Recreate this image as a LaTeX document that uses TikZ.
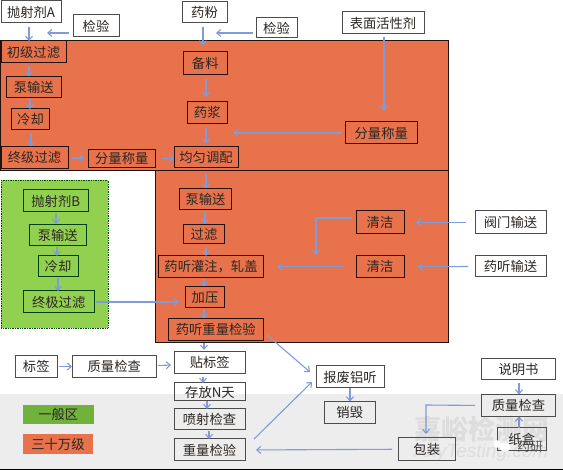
\documentclass[tikz,border=0pt]{standalone}
\usepackage{fontspec}
\setmainfont{Noto Sans CJK SC}
\newfontfamily\wmfont{Liberation Sans}
\usetikzlibrary{arrows.meta,calc}
\definecolor{zoneorange}{HTML}{E8724B}
\definecolor{zonegreen}{HTML}{92D050}
\definecolor{legendgreen}{HTML}{70B23C}
\definecolor{groundgray}{HTML}{EDEDED}
\definecolor{flowblue}{HTML}{7F9BDA}
\definecolor{inkdark}{HTML}{2B2622}
\tikzset{
  x=1pt,y=-1pt,
  base/.style={inner sep=0pt,outer sep=0pt,font=\fontsize{13.3}{14}\selectfont,text=inkdark,line width=1pt,anchor=center},
  whitebox/.style={base,draw=black!70,fill=white},
  graybox/.style={base,draw=black!70},
  orangebox/.style={base,draw=black!85!zoneorange},
  greenbox/.style={base,draw=green!25!black},
  legendbox/.style={base,draw=none},
  flow/.style={draw=flowblue,line width=1.1pt,-{Straight Barb[length=4pt,width=7pt]}},
  watermark/.style={inner sep=0pt,text=black!55,opacity=0.13},
}
% name, x1, y1, x2, y2, style, text
\newcommand{\bx}[7]{\node[#6,minimum width={(#4-#2)*1pt},minimum height={(#5-#3)*1pt}] (#1) at ({(#2+#4)/2},{(#3+#5)/2}) {#7};}
% connectors: from, offset, gap, to, offset, gap
\newcommand{\vflow}[6]{\draw[flow,shorten <=#3pt,shorten >=#6pt] ([shift={(#2,0)}]#1.south) -- ([shift={(#5,0)}]#4.north);}
\newcommand{\hflow}[6]{\draw[flow,shorten <=#3pt,shorten >=#6pt] ([shift={(0,#2)}]#1.east) -- ([shift={(0,#5)}]#4.west);}
\begin{document}
\begin{tikzpicture}
\useasboundingbox (0,0) rectangle (563,470);
% ground and zones
\fill[white] (0,0) rectangle (563,470);
\fill[groundgray] (0,394) rectangle (563,469);
\fill[black] (0,469) rectangle (563,470);
\draw[fill=zoneorange,draw=black!85!zoneorange,line width=1pt] (0,41) rectangle (448,171);
\draw[fill=zoneorange,draw=black!85!zoneorange,line width=1pt] (155,171) rectangle (448,343);
\draw[fill=zonegreen,draw=green!30!black,line width=0.7pt,densely dotted] (1,180.5) rectangle (108,328);
% top row
\bx{ajA}{1}{1}{61}{23}{whitebox}{抛射剂A}
\bx{jy1}{73}{15}{119}{37}{whitebox}{检验}
\bx{yf}{182}{2}{227}{23}{whitebox}{药粉}
\bx{jy2}{256}{18}{297}{38}{whitebox}{检验}
\bx{bm}{342}{12}{424}{34}{whitebox}{表面活性剂}
% upper zone
\bx{cj}{1}{41}{66}{63}{orangebox}{初级过滤}
\bx{bs1}{6.5}{76.5}{61}{97.5}{orangebox}{泵输送}
\bx{lq1}{11.5}{109}{49.5}{130}{orangebox}{冷却}
\bx{zj}{1}{146.5}{68}{168.5}{orangebox}{终级过滤}
\bx{fl1}{88}{149.5}{155.5}{168}{orangebox}{分量称量}
\bx{jy}{174}{146.5}{238}{168}{orangebox}{均匀调配}
\bx{bl}{183.5}{51.5}{227}{74.5}{orangebox}{备料}
\bx{yj}{187.5}{102}{227}{123.5}{orangebox}{药浆}
\bx{fl2}{345.5}{122}{417}{144}{orangebox}{分量称量}
% lower zone
\bx{bs2}{179.5}{188.5}{231.5}{209.5}{orangebox}{泵输送}
\bx{gl}{183.5}{225}{224.5}{244}{orangebox}{过滤}
\bx{gz}{158.5}{256}{263.5}{277.5}{orangebox}{药听灌注，轧盖}
\bx{jya}{185.5}{286.5}{224.5}{308}{orangebox}{加压}
\bx{zl}{168}{318.5}{263.5}{340.5}{orangebox}{药听重量检验}
\bx{qj1}{356}{211}{404}{233.5}{orangebox}{清洁}
\bx{qj2}{356}{256}{404}{277.5}{orangebox}{清洁}
\bx{fm}{475}{211}{546}{233.5}{whitebox}{阀门输送}
\bx{yt}{475}{256}{546}{277}{whitebox}{药听输送}
% green zone
\bx{ajB}{23}{190}{88.5}{212}{greenbox}{抛射剂B}
\bx{bs3}{29.5}{225}{86}{246}{greenbox}{泵输送}
\bx{lq3}{38}{256}{78}{277}{greenbox}{冷却}
\bx{zjg}{23}{291}{94.5}{313}{greenbox}{终极过滤}
% below zones
\bx{bq}{15}{355.5}{57.5}{377.5}{whitebox}{标签}
\bx{zc1}{72}{355.5}{156.5}{377.5}{whitebox}{质量检查}
\bx{tbq}{174}{351.5}{245.5}{373.5}{whitebox}{贴标签}
\bx{cf}{174.5}{383}{245.5}{401}{graybox}{存放N天}
\bx{ps}{174}{409}{245}{430}{graybox}{喷射检查}
\bx{zljy}{174}{439}{245}{461}{graybox}{重量检验}
\bx{bf}{316}{366}{384}{388}{whitebox}{报废铝听}
\bx{xh}{324}{401.5}{375.5}{423.5}{graybox}{销毁}
\bx{sms}{481.5}{358.5}{555.5}{380}{whitebox}{说明书}
\bx{zc2}{481.5}{394.5}{555.5}{416.5}{graybox}{质量检查}
\bx{bz}{398.5}{438}{455}{460.5}{graybox}{包装}
\bx{zh}{497.5}{428}{546}{451}{graybox}{纸盒}
% legend
\bx{lg}{23}{405.5}{93.5}{424}{legendbox,fill=legendgreen}{一般区}
\bx{lo}{23}{434}{93}{454}{legendbox,fill=zoneorange}{三十万级}
% free ends of connectors
\coordinate (endA) at (47,33);
\coordinate (endB) at (216,33);
\coordinate (endC) at (233,133);
\coordinate (endD) at (316,255);
\coordinate (bendD) at (316,218);
\coordinate (bendE) at (426,405);
\coordinate (endE) at (426,434);
% connectors, vertical
\vflow{ajA}{-2}{4}{cj}{-4.5}{0}
\vflow{yf}{-1.5}{4}{bl}{-2.25}{6}
\vflow{bm}{1}{3}{fl2}{2.75}{11}
\vflow{cj}{-4.5}{3}{bs1}{-4.75}{0}
\vflow{bs1}{-3.75}{1}{lq1}{-0.5}{0}
\vflow{lq1}{0.5}{3}{zj}{-3.5}{0}
\vflow{bl}{0.75}{5}{yj}{-1.25}{5}
\vflow{yj}{-1.25}{5}{jy}{0}{3}
\vflow{jy}{0}{6}{bs2}{0.5}{0}
\vflow{bs2}{-0.5}{3}{gl}{1}{1}
\vflow{gl}{2}{3}{gz}{-5}{0}
\vflow{gz}{-7}{2}{jya}{-1}{0}
\vflow{jya}{-1}{1}{zl}{-11.75}{0}
\vflow{zl}{-11.75}{2.5}{tbq}{-5.75}{1.5}
\vflow{tbq}{-6.75}{3.5}{cf}{-7}{0}
\vflow{cf}{-3}{0}{ps}{-2.5}{0}
\vflow{ps}{-0.5}{1}{zljy}{-0.5}{0}
\vflow{ajB}{0.25}{1}{bs3}{-1.75}{1}
\vflow{bs3}{-0.75}{1}{lq3}{-1}{0}
\vflow{lq3}{0}{1}{zjg}{-0.75}{0}
\vflow{bf}{0}{0}{xh}{0.25}{0}
\vflow{sms}{0.5}{3}{zc2}{0.5}{0}
% connectors, horizontal
\hflow{zj}{0.5}{4}{fl1}{-0.75}{4}
\hflow{fl1}{0}{6.5}{jy}{0.75}{0}
\hflow{zjg}{0}{1.5}{jya}{4.75}{6.5}
\hflow{bq}{0}{1.5}{zc1}{0}{0}
\hflow{zc1}{-1}{1.5}{tbq}{2.5}{3}
\draw[flow,shorten <=4pt] (jy1.west |- endA) -- (endA);
\draw[flow,shorten <=3pt] (jy2.west |- endB) -- (endB);
\draw[flow,shorten <=3.5pt] (fl2.west) -- (endC);
\draw[flow,shorten <=4pt] (qj1.west |- bendD) -- (bendD) -- (endD);
\draw[flow,shorten <=9pt,shorten >=12pt] (fm.west) -- (qj1.east);
\draw[flow,shorten <=7pt,shorten >=14pt] (yt.west) -- (qj2.east);
\draw[flow,shorten <=12pt,shorten >=14pt] (qj2.west) -- (gz.east);
\draw[flow] ([shift={(3.5,5.5)}]zl.east) -- ([shift={(-6,-5)}]bf.west);
\draw[flow] ([shift={(9,0)}]zljy.north east) -- ([shift={(-4,5)}]bf.west);
\draw[flow,shorten <=6.5pt,shorten >=11pt] (bz.west) -- (zljy.east);
\draw[flow,shorten <=6.5pt] (zc2.west) -- (bendE) -- (endE);
\draw[flow] ([xshift=0.5pt]zh.north -| zc2.south) -- ([xshift=0.5pt]zc2.south);
% watermark
\node[watermark,font=\fontsize{27}{27}\selectfont\bfseries] (wm1) at (481.5,429.5) {嘉峪检测网};
\node[watermark,font=\wmfont\itshape\fontsize{19}{19}\selectfont] (wm2) at (481,453) {AnyTesting.com};
\fill[white] (497,444) ellipse (3.5 and 3.8);
\fill[white] (505,447) ellipse (5.5 and 4.8);
\node[text=black!75,opacity=0.85,inner sep=0pt,font=\fontsize{13}{13}\selectfont] (wm3) at (530,447) {药研};
\end{tikzpicture}
\end{document}
